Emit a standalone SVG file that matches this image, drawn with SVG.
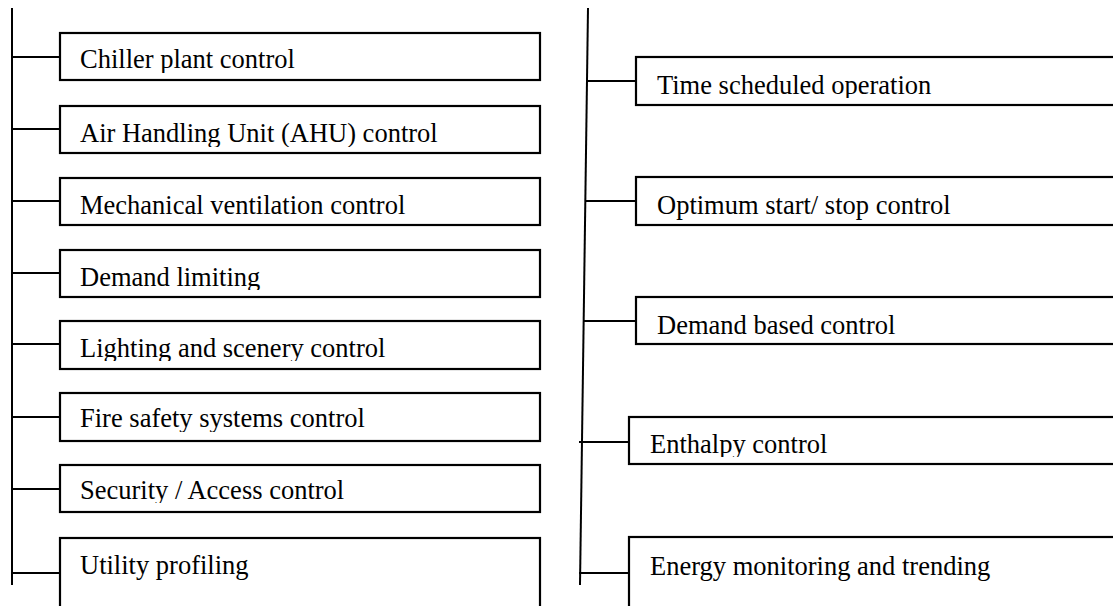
<svg xmlns="http://www.w3.org/2000/svg" width="1113" height="606" viewBox="0 0 1113 606">
  <style>
    .box { fill: #ffffff; stroke: #000000; stroke-width: 2.2; }
    .wire { fill: none; stroke: #000000; stroke-width: 2; }
    .label { font-family: "Liberation Serif", "Times New Roman", serif; font-size: 26.5px; fill: #000000; }
  </style>
  <defs>
    <!-- text frames: descenders are cut a little below each baseline -->
    <clipPath id="c1"><rect x="60" y="33" width="480" height="40"/></clipPath>
    <clipPath id="c2"><rect x="60" y="106" width="480" height="41"/></clipPath>
    <clipPath id="c3"><rect x="60" y="178" width="480" height="46"/></clipPath>
    <clipPath id="c4"><rect x="60" y="250" width="480" height="40"/></clipPath>
    <clipPath id="c5"><rect x="60" y="321" width="480" height="40"/></clipPath>
    <clipPath id="c6"><rect x="60" y="393" width="480" height="39"/></clipPath>
    <clipPath id="c7"><rect x="60" y="465" width="480" height="38"/></clipPath>
    <clipPath id="c8"><rect x="60" y="538" width="480" height="68"/></clipPath>
    <clipPath id="r1"><rect x="636" y="57" width="477" height="41"/></clipPath>
    <clipPath id="r2"><rect x="636" y="177" width="477" height="46"/></clipPath>
    <clipPath id="r3"><rect x="636" y="297" width="477" height="45"/></clipPath>
    <clipPath id="r4"><rect x="629" y="417" width="484" height="40"/></clipPath>
    <clipPath id="r5"><rect x="629" y="537" width="484" height="69"/></clipPath>
  </defs>

  <!-- connectors: two spines with short horizontal feeders -->
  <g id="connectors">
    <line class="wire" x1="12" y1="8" x2="12" y2="585"/>
    <line class="wire" x1="12" y1="57" x2="60" y2="57"/>
    <line class="wire" x1="12" y1="129" x2="60" y2="129"/>
    <line class="wire" x1="12" y1="201" x2="60" y2="201"/>
    <line class="wire" x1="12" y1="273" x2="60" y2="273"/>
    <line class="wire" x1="12" y1="344" x2="60" y2="344"/>
    <line class="wire" x1="12" y1="417" x2="60" y2="417"/>
    <line class="wire" x1="12" y1="489" x2="60" y2="489"/>
    <line class="wire" x1="12" y1="573" x2="60" y2="573"/>

    <line class="wire" x1="588" y1="8" x2="580" y2="585"/>
    <line class="wire" x1="587" y1="81" x2="636" y2="81"/>
    <line class="wire" x1="585" y1="201" x2="636" y2="201"/>
    <line class="wire" x1="584" y1="321" x2="636" y2="321"/>
    <line class="wire" x1="579" y1="442" x2="629" y2="442"/>
    <line class="wire" x1="579" y1="573" x2="629" y2="573"/>
  </g>

  <!-- left column -->
  <g id="chiller-plant">
    <rect class="box" x="60" y="33" width="480" height="47"/>
    <text class="label" x="80" y="68" clip-path="url(#c1)">Chiller plant control</text>
  </g>
  <g id="ahu">
    <rect class="box" x="60" y="106" width="480" height="47"/>
    <text class="label" x="80" y="142" clip-path="url(#c2)">Air Handling Unit (AHU) control</text>
  </g>
  <g id="mech-ventilation">
    <rect class="box" x="60" y="178" width="480" height="47"/>
    <text class="label" x="80" y="214" clip-path="url(#c3)">Mechanical ventilation control</text>
  </g>
  <g id="demand-limiting">
    <rect class="box" x="60" y="250" width="480" height="47"/>
    <text class="label" x="80" y="286" clip-path="url(#c4)">Demand limiting</text>
  </g>
  <g id="lighting">
    <rect class="box" x="60" y="321" width="480" height="48"/>
    <text class="label" x="80" y="357" clip-path="url(#c5)">Lighting and scenery control</text>
  </g>
  <g id="fire-safety">
    <rect class="box" x="60" y="393" width="480" height="48"/>
    <text class="label" x="80" y="427" clip-path="url(#c6)">Fire safety systems control</text>
  </g>
  <g id="security">
    <rect class="box" x="60" y="465" width="480" height="47"/>
    <text class="label" x="80" y="499" clip-path="url(#c7)">Security / Access control</text>
  </g>
  <g id="utility-profiling">
    <rect class="box" x="60" y="538" width="480" height="80"/>
    <text class="label" x="80" y="574" clip-path="url(#c8)">Utility profiling</text>
  </g>

  <!-- right column -->
  <g id="time-scheduled">
    <rect class="box" x="636" y="57" width="490" height="48"/>
    <text class="label" x="657" y="94" clip-path="url(#r1)">Time scheduled operation</text>
  </g>
  <g id="optimum-start-stop">
    <rect class="box" x="636" y="177" width="490" height="48"/>
    <text class="label" x="657" y="214" clip-path="url(#r2)">Optimum start/ stop control</text>
  </g>
  <g id="demand-based">
    <rect class="box" x="636" y="297" width="490" height="47"/>
    <text class="label" x="657" y="334" clip-path="url(#r3)">Demand based control</text>
  </g>
  <g id="enthalpy">
    <rect class="box" x="629" y="417" width="497" height="47"/>
    <text class="label" x="650" y="453" clip-path="url(#r4)">Enthalpy control</text>
  </g>
  <g id="energy-monitoring">
    <rect class="box" x="629" y="537" width="497" height="80"/>
    <text class="label" x="650" y="575" clip-path="url(#r5)">Energy monitoring and trending</text>
  </g>
</svg>
